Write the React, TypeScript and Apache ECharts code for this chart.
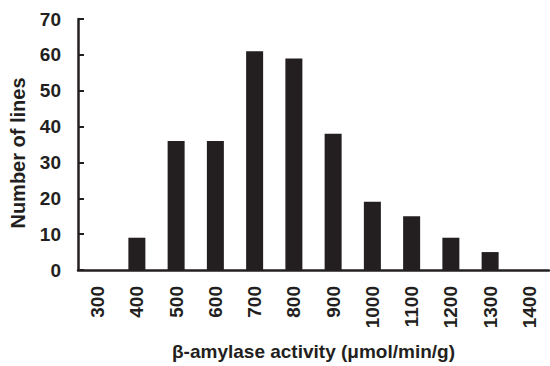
import React, { useEffect, useRef } from "react";
import * as echarts from "echarts";

const categories = ["300", "400", "500", "600", "700", "800", "900", "1000", "1100", "1200", "1300", "1400"];
const counts = [0, 9, 36, 36, 61, 59, 38, 19, 15, 9, 5, 0];
const yTicks = { min: 0, max: 70, interval: 10 };
const xTitle = "β-amylase activity (μmol/min/g)";
const yTitle = "Number of lines";

export default function App() {
  const ref = useRef<HTMLDivElement>(null);
  useEffect(() => {
    if (!ref.current) return;
    const chart = echarts.init(ref.current, null, { renderer: "svg" });
    const ink = "#231f20";
    const font = "Liberation Sans, Arial, sans-serif";
    chart.setOption({
      animation: false,
      grid: { left: 78, right: 1, top: 19, bottom: 93, containLabel: false },
      xAxis: {
        type: "category",
        data: categories,
        axisLine: { lineStyle: { color: ink, width: 2.5 } },
        axisTick: { inside: true, length: 6, alignWithLabel: false, lineStyle: { color: ink, width: 2 } },
        axisLabel: { rotate: 90, margin: 16, color: ink, fontWeight: "bold", fontSize: 19, fontFamily: font },
        name: xTitle,
        nameLocation: "middle",
        nameGap: 72,
        nameTextStyle: { color: ink, fontWeight: "bold", fontSize: 19, fontFamily: font },
      },
      yAxis: {
        type: "value",
        min: yTicks.min,
        max: yTicks.max,
        interval: yTicks.interval,
        splitLine: { show: false },
        axisLine: { show: true, lineStyle: { color: ink, width: 2.5 } },
        axisTick: { show: true, inside: true, length: 6, lineStyle: { color: ink, width: 2 } },
        axisLabel: { margin: 17, color: ink, fontWeight: "bold", fontSize: 19, fontFamily: font },
      },
      graphic: [
        {
          type: "text",
          x: 18,
          y: 153,
          rotation: Math.PI / 2,
          style: {
            text: yTitle,
            fill: ink,
            font: `bold 20px ${font}`,
            textAlign: "center",
            textVerticalAlign: "middle",
          },
        },
      ],
      series: [
        {
          type: "bar",
          data: counts,
          barWidth: 17,
          itemStyle: { color: ink },
        },
      ],
    });
    return () => chart.dispose();
  }, []);
  return <div ref={ref} style={{ position: "absolute", left: 0, top: 0, width: 550, height: 366 }} />;
}
